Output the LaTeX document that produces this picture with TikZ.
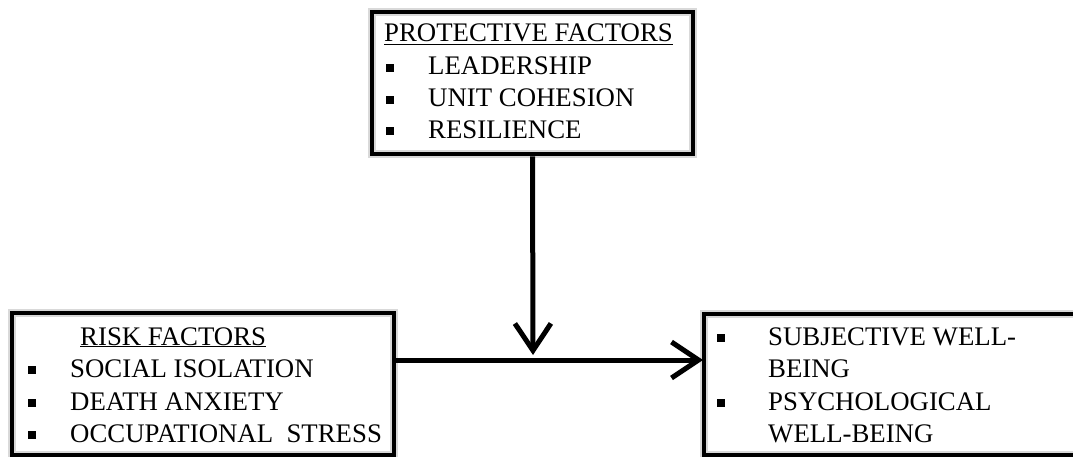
\documentclass[tikz,border=0pt]{standalone}
\usepackage{fontspec}
\setmainfont{Liberation Serif}
\usetikzlibrary{arrows.meta}
\begin{document}
\begin{tikzpicture}[x=1pt,y=-1pt,
  box/.style={draw=black, line width=4.6pt, rectangle, inner sep=0pt,
    preaction={draw=black!15, line width=8pt}},
  txt/.style={anchor=base west, inner sep=0pt, font=\fontsize{26.8}{30}\selectfont},
  bul/.style={rectangle, fill=black, minimum size=7.5pt, inner sep=0pt},
  arr/.style={line width=5pt, -{Straight Barb[length=27pt,width=36pt,line width=5pt]}}]
\useasboundingbox (0,0) rectangle (1073,457);
\fill[white] (0,0) rectangle (1073,457);
\begin{scope}
\clip (0,0) rectangle (1073,457);
% boxes
\node[box, minimum width=321pt, minimum height=142pt] (top) at (532.5,83) {};
\node[box, minimum width=382pt, minimum height=142pt] (left) at (203,384) {};
\node[box, minimum width=386pt, minimum height=141pt] (right) at (897,384.5) {};
\end{scope}
% top box text
\node[txt] (ptitle) at (384,42) {\underline{PROTECTIVE FACTORS}};
\node[bul] (pb1) at (390,68) {};
\node[txt] (p1) at (428,75) {LEADERSHIP};
\node[bul] (pb2) at (390,100) {};
\node[txt] (p2) at (428,107) {UNIT COHESION};
\node[bul] (pb3) at (390,131) {};
\node[txt] (p3) at (428,139) {RESILIENCE};
% left box text
\node[txt] (rtitle) at (80,345) {\underline{RISK FACTORS}};
\node[bul] (rb1) at (32,370) {};
\node[txt] (r1) at (70,377) {SOCIAL ISOLATION};
\node[bul] (rb2) at (32,403) {};
\node[txt] (r2) at (70,410) {DEATH ANXIETY};
\node[bul] (rb3) at (32,435) {};
\node[txt] (r3) at (70,442) {OCCUPATIONAL \ STRESS};
% right box text
\node[bul] (ob1) at (721,338) {};
\node[txt] (o1) at (768,345) {SUBJECTIVE WELL-};
\node[txt] (o1b) at (768,377) {BEING};
\node[bul] (ob2) at (721,403) {};
\node[txt] (o2) at (768,410) {PSYCHOLOGICAL};
\node[txt] (o2b) at (768,442) {WELL-BEING};
% connectors
\coordinate (vend) at (533,355);
\coordinate (hend) at (703,360);
\draw[arr] (top.south) -- (vend);
\draw[arr] (left.east |- hend) -- (hend);
\end{tikzpicture}
\end{document}
